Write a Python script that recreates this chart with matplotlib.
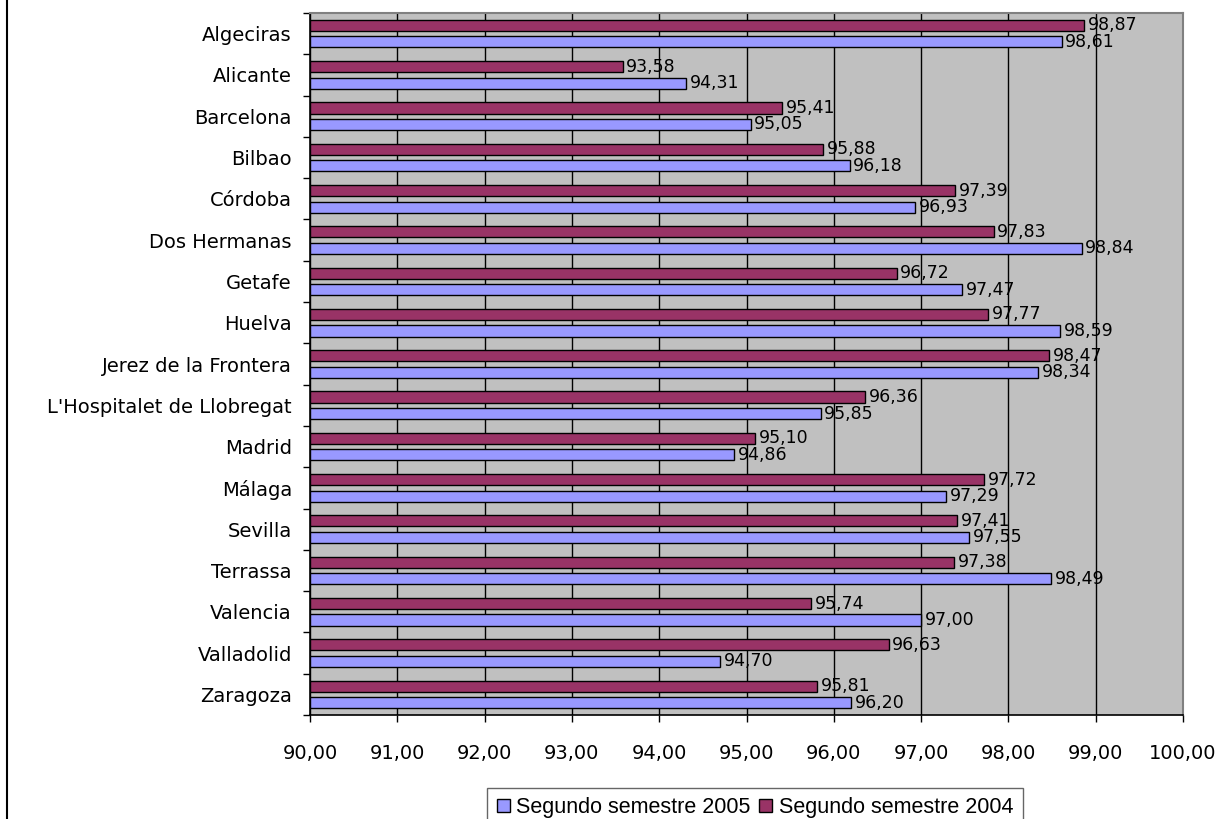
import numpy as np
import matplotlib.pyplot as plt
from matplotlib.lines import Line2D

cities = ["Algeciras", "Alicante", "Barcelona", "Bilbao", "Córdoba", "Dos Hermanas",
          "Getafe", "Huelva", "Jerez de la Frontera", "L'Hospitalet de Llobregat",
          "Madrid", "Málaga", "Sevilla", "Terrassa", "Valencia", "Valladolid", "Zaragoza"]
s2005 = [98.61, 94.31, 95.05, 96.18, 96.93, 98.84, 97.47, 98.59, 98.34, 95.85,
         94.86, 97.29, 97.55, 98.49, 97.00, 94.70, 96.20]
s2004 = [98.87, 93.58, 95.41, 95.88, 97.39, 97.83, 96.72, 97.77, 98.47, 96.36,
         95.10, 97.72, 97.41, 97.38, 95.74, 96.63, 95.81]

def fmt(v):
    return f"{v:.2f}".replace(".", ",")

fig = plt.figure(figsize=(12.23, 8.19), dpi=100)
ax = fig.add_axes([310/1223, 1 - 715/819, 873/1223, 702/819])
ax.set_facecolor("#C0C0C0")

y = np.arange(len(cities))
h = 0.27
base = 90
b04 = ax.barh(y - 0.2, np.array(s2004) - base, left=base, height=h, color="#993366",
              edgecolor="black", linewidth=1, label="Segundo semestre 2004", zorder=3)
b05 = ax.barh(y + 0.2, np.array(s2005) - base, left=base, height=h, color="#9999FF",
              edgecolor="black", linewidth=1, label="Segundo semestre 2005", zorder=3)

for i in range(len(cities)):
    ax.text(s2004[i] + 0.04, y[i] - 0.2, fmt(s2004[i]), va="center", ha="left",
            fontsize=12.5, zorder=4)
    ax.text(s2005[i] + 0.04, y[i] + 0.2, fmt(s2005[i]), va="center", ha="left",
            fontsize=12.5, zorder=4)

ax.set_xlim(90, 100)
ax.set_ylim(len(cities) - 0.5, -0.5)
ax.set_xticks(np.arange(90, 101, 1))
ax.set_xticklabels([fmt(v) for v in np.arange(90, 101, 1)], fontsize=14)
ax.set_yticks(y)
ax.set_yticklabels(cities, fontsize=14)
ax.set_yticks(np.arange(-0.5, len(cities), 1), minor=True)
ax.tick_params(axis="y", which="major", length=0, pad=13)
ax.tick_params(axis="y", which="minor", length=5, width=1, direction="out")
ax.tick_params(axis="x", length=5, width=1, direction="out", pad=16)
ax.grid(axis="x", color="black", linewidth=1, zorder=1)
ax.set_axisbelow(True)
for s in ["top", "right"]:
    ax.spines[s].set_color("#808080")
    ax.spines[s].set_linewidth(1.5)
for s in ["left", "bottom"]:
    ax.spines[s].set_color("black")
    ax.spines[s].set_linewidth(1.2)

leg = fig.legend(handles=[b05, b04], loc="lower center", ncol=2,
                 bbox_to_anchor=(755/1223, -0.024), frameon=True, fancybox=False,
                 prop={"family": "Liberation Sans", "size": 15.5},
                 handlelength=0.6, handleheight=0.6, handletextpad=0.3,
                 columnspacing=0.4, borderpad=0.45)
leg.get_frame().set_edgecolor("#404040")
leg.get_frame().set_linewidth(1)

fig.add_artist(Line2D([6.5/1223, 6.5/1223], [0, 1], color="black", linewidth=1.5))

fig.savefig("out.png", dpi=100)
